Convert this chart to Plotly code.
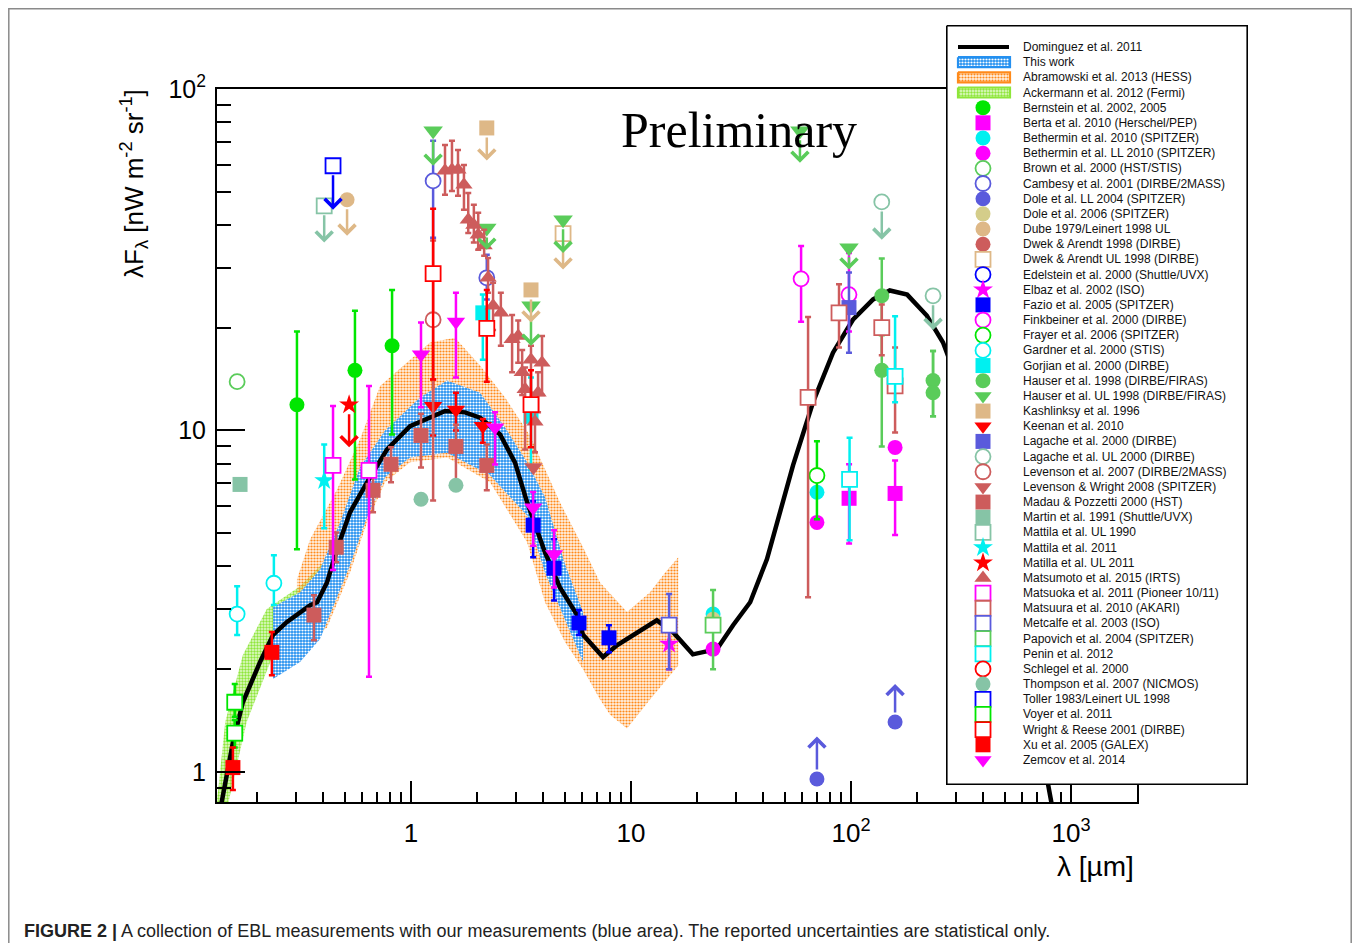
import numpy as np
import plotly.graph_objects as go

# ---------------- model curve: Dominguez et al. 2011 ----------------
dom_lam = [0.136, 0.140, 0.155, 0.172, 0.206, 0.236, 0.273, 0.348, 0.374, 0.415, 0.461, 0.528,
           0.631, 0.778, 0.99, 1.43, 1.76, 2.06, 2.54, 2.97, 3.37, 4.06, 4.75, 5.69, 6.05, 7.46,
           8.63, 13.1, 15.5, 19.1, 24.6, 29.1, 34.8, 41.5, 54.5, 67.2, 82.8, 102, 126, 150, 180,
           221, 262, 350, 500, 650, 803, 850]
dom_f = [0.78, 0.857, 1.22, 1.60, 2.10, 2.52, 2.75, 3.08, 3.14, 3.59, 4.49, 5.76,
         7.05, 8.80, 10.3, 11.4, 11.3, 10.9, 9.73, 8.05, 6.16, 4.40, 3.47, 2.88, 2.52, 2.17,
         2.35, 2.78, 2.57, 2.21, 2.29, 2.69, 3.14, 4.20, 7.90, 12.1, 16.9, 21.1, 24.2, 25.7, 25.0,
         21.7, 18.1, 11.0, 4.5, 1.8, 0.85, 0.7]

# ---------------- bands ----------------
# This work (blue)
tw_up_lam = [0.236, 0.313, 0.386, 0.476, 0.586, 0.762, 1.099, 1.457, 2.06, 2.675, 3.368, 4.064, 5.01, 6.05]
tw_up_f = [3.04, 3.36, 3.92, 5.38, 7.79, 10.0, 12.5, 14.0, 12.9, 10.2, 8.07, 6.37, 4.06, 2.94]
tw_lo_lam = [0.236, 0.313, 0.386, 0.415, 0.528, 0.631, 0.762, 0.990, 1.457, 2.286, 3.368, 4.064, 5.01, 6.05]
tw_lo_f = [1.87, 2.10, 2.45, 2.75, 4.03, 5.57, 7.30, 8.34, 8.6, 7.39, 5.64, 3.84, 2.80, 2.10]
# Abramowski et al. 2013 (HESS, orange)
hess_up_lam = [0.303, 0.348, 0.461, 0.586, 0.723, 1.22, 1.585, 2.06, 2.675, 3.47, 4.75, 6.05, 7.23, 9.59, 12.2, 14.3, 16.4]
hess_up_f = [3.67, 4.80, 6.72, 9.41, 13.5, 18.1, 18.7, 15.5, 12.5, 9.67, 6.16, 4.55, 3.59, 2.94, 3.36, 3.84, 4.25]
hess_lo_lam = [0.303, 0.348, 0.415, 0.528, 0.631, 0.762, 0.990, 1.457, 2.286, 3.368, 4.064, 5.01, 6.05, 7.23, 8.03, 9.59, 12.2, 16.4]
hess_lo_f = [2.57, 2.40, 2.65, 3.84, 5.38, 7.05, 8.07, 8.34, 7.05, 4.71, 3.14, 2.40, 2.0, 1.63, 1.47, 1.34, 1.63, 2.05]
# Ackermann et al. 2012 (Fermi, green)
fermi_up_lam = [0.128, 0.133, 0.143, 0.172, 0.221, 0.313, 0.428]
fermi_up_f = [0.75, 0.89, 1.40, 2.20, 3.0, 3.5, 4.3]
fermi_lo_lam = [0.128, 0.147, 0.179, 0.236, 0.313, 0.428]
fermi_lo_f = [0.70, 0.80, 1.40, 2.20, 2.3, 3.2]

# ---------------- measurements ----------------
bern_lam = [0.303, 0.556, 0.820]; bern_f = [11.9, 15.0, 17.7]; bern_lo = [4.49, 7.19, 9.73]; bern_hi = [19.5, 22.4, 25.8]
berta_lam = [98.0, 158.6]; berta_f = [6.33, 6.54]; berta_lo = [4.67, 4.94]; berta_hi = [7.96, 8.17]
beth_lam = [23.6, 70.0]; beth_f = [2.90, 6.59]
bethll_lam = [23.6, 70.0, 158.6]; bethll_f = [2.29, 5.38, 8.92]
brown_lam = [0.162]; brown_f = [13.9]
camb_lam = [1.26, 2.21]; camb_f = [53.8, 28.0]; camb_lo = [36.7, 24.2]; camb_hi = [70.5, 32.7]
doll_lam = [70.0, 158.6]; doll_f = [0.954, 1.40]; doll_tip = [1.27, 1.81]
dole06_lam = [23.6, 70.0, 158.6]; dole06_f = [2.80, 7.43, 14.1]
dube_lam = [0.512]; dube_f = [47.4]; dube_tip = [37.2]
dwekul_lam = [4.91]; dwekul_f = [37.7]; dwekul_tip = [29.6]
elbaz_lam = [14.9]; elbaz_f = [2.37]; elbaz_lo = [2.0]; elbaz_hi = [2.80]
fazio_lam = [3.59, 4.47, 5.80, 7.94]; fazio_f = [5.28, 3.95, 2.73, 2.47]
fazio_lo = [4.25, 3.18, 2.52, 2.24]; fazio_hi = [6.2, 4.8, 2.98, 2.69]
fink_lam = [59.3, 97.9]; fink_f = [27.8, 25.0]; fink_lo = [20.8, 19.5]; fink_hi = [34.7, 33.1]
frayer_lam = [70.0]; frayer_f = [7.38]; frayer_lo = [5.5]; frayer_hi = [9.3]
gard_lam = [0.162, 0.238]; gard_f = [2.90, 3.57]; gard_lo = [2.52, 3.08]; gard_hi = [3.50, 4.31]
gorj_lam = [2.12, 3.51]; gorj_f = [22.1, 11.0]; gorj_lo = [16.1, 7.7]; gorj_hi = [25.0, 14.3]
haus_lam = [138, 138, 236, 236]; haus_f = [24.8, 15.0, 14.0, 12.9]
haus_lo = [19.0, 8.98, 11.0, 11.0]; haus_hi = [31.9, 20.0, 17.1, 17.1]
hausul_lam = [1.26, 2.21, 3.51, 4.91, 58.6, 97.9]; hausul_f = [75.4, 39.2, 23.2, 41.4, 75.4, 34.3]
hausul_tip = [59.6, 33.8, 17.7, 33.1, 60.8, 29.6]
kash_lam = [2.21, 3.51]; kash_f = [76.9, 25.8]; kash_tip = [61.7, 20.7]
keen_lam = [1.26, 1.60, 2.12]; keen_f = [11.8, 11.5, 10.3]; keen_lo = [9.67, 10.0, 9.2]; keen_hi = [14.1, 12.9, 10.8]
lag_lam = [97.9]; lag_f = [22.9]; lag_lo = [16.9]; lag_hi = [29.0]
lagul_lam = [138, 236]; lagul_f = [46.7, 24.8]; lagul_tip = [36.2, 19.7]
lev07_lam = [1.26]; lev07_f = [21.1]; lev07_lo = [6.24]; lev07_hi = [36.0]
levw_lam = [3.60]; levw_f = [7.8]
madau_lam = [0.362, 0.457, 0.672, 0.811, 1.11, 1.60, 2.21]
madau_f = [2.88, 4.55, 6.68, 7.96, 9.67, 8.98, 7.90]
madau_lo = [2.43, 4.11, 5.76, 7.05, 7.79, 6.68, 6.68]
madau_hi = [3.29, 5.03, 7.62, 8.93, 11.2, 10.4, 9.1]
martin_lam = [0.167]; martin_f = [6.95]
matul90_lam = [0.403]; matul90_f = [45.5]; matul90_tip = [35.5]
mat11_lam = [0.403]; mat11_f = [7.14]; mat11_lo = [5.17]; mat11_hi = [9.1]
matul11_lam = [0.523]; matul11_f = [11.9]; matul11_tip = [8.93]
matsu_lam = [1.427, 1.535, 1.635, 1.74, 1.82, 1.93, 2.02, 2.15, 2.24, 2.36, 2.56, 2.88, 3.07, 3.20, 3.30, 3.51, 3.66, 3.78, 3.94]
matsu_f = [57.6, 58.0, 58.0, 52.4, 41.4, 40.0, 37.4, 34.8, 28.0, 23.2, 22.1, 18.5, 18.9, 14.8, 13.2, 16.1, 10.6, 12.9, 15.8]
matsu_lo = [49.0, 50.3, 48.7, 44.3, 37.9, 35.5, 33.8, 32.5, 25.3, 19.7, 17.7, 14.8, 15.8, 12.7, 8.80, 12.1, 8.63, 11.3, 12.7]
matsu_hi = [68.6, 70.5, 66.3, 59.9, 49.6, 45.8, 43.4, 38.7, 32.0, 27.1, 25.3, 21.8, 21.0, 17.2, 15.3, 17.7, 12.1, 14.8, 18.9]
matsuo_lam = [0.442, 0.644]; matsuo_f = [7.9, 7.64]; matsuo_lo = [3.90, 1.90]; matsuo_hi = [11.8, 13.5]
matsuu_lam = [63.8, 88.2, 138, 158.6]; matsuu_f = [12.5, 22.1, 20.0, 13.5]
matsuu_lo = [3.25, 17.5, 16.6, 9.86]; matsuu_hi = [21.5, 26.8, 23.4, 17.5]
metc_lam = [14.9]; metc_f = [2.69]; metc_lo = [2.0]; metc_hi = [3.32]
papo_lam = [23.6]; papo_f = [2.69]; papo_lo = [2.0]; papo_hi = [3.41]
penin_lam = [98.5, 158.6]; penin_f = [7.19, 14.4]; penin_lo = [4.77, 12.1]; penin_hi = [9.52, 21.6]
thom_lam = [1.11, 1.60]; thom_f = [6.29, 6.91]
toller_lam = [0.442]; toller_f = [59.6]; toller_tip = [44.3]
voyer_lam = [0.158, 0.158]; voyer_f = [1.60, 1.30]; voyer_lo = [1.45, 1.18]; voyer_hi = [1.81, 1.42]
wr_lam = [1.26, 2.21, 3.51]; wr_f = [28.8, 19.9, 11.9]; wr_lo = [14.1, 13.9, 8.93]; wr_hi = [44.6, 25.8, 15.0]
xu_lam = [0.155, 0.233]; xu_f = [1.03, 2.24]; xu_lo = [0.886, 1.92]; xu_hi = [1.18, 2.57]
zem_lam = [1.11, 1.60, 2.41, 3.59, 4.47]; zem_f = [16.7, 20.8, 10.2, 5.95, 4.34]
zem_lo = [11.7, 14.3, 7.95, 4.6, 3.47]; zem_hi = [20.7, 25.3, 11.3, 6.6, 5.10]

# ---------------- axis ticks ----------------
x_major = [1, 10, 100, 1000]
x_major_text = ["1", "10", "10<sup>2</sup>", "10<sup>3</sup>"]
x_minor = [m * d for d in (0.1, 1, 10, 100) for m in range(2, 10)]
y_major = [1, 10, 100]
y_major_text = ["1", "10", "10<sup>2</sup>"]
y_minor = [0.9] + [m * d for d in (1, 10) for m in range(2, 10)]

legend_labels = [
    "Dominguez et al. 2011", "This work", "Abramowski et al. 2013 (HESS)", "Ackermann et al. 2012 (Fermi)",
    "Bernstein et al. 2002, 2005", "Berta et al. 2010 (Herschel/PEP)", "Bethermin et al. 2010 (SPITZER)",
    "Bethermin et al. LL 2010 (SPITZER)", "Brown et al. 2000 (HST/STIS)", "Cambesy et al. 2001 (DIRBE/2MASS)",
    "Dole et al. LL 2004 (SPITZER)", "Dole et al. 2006 (SPITZER)", "Dube 1979/Leinert 1998 UL",
    "Dwek &amp; Arendt 1998 (DIRBE)", "Dwek &amp; Arendt UL 1998 (DIRBE)", "Edelstein et al. 2000 (Shuttle/UVX)",
    "Elbaz et al. 2002 (ISO)", "Fazio et al. 2005 (SPITZER)", "Finkbeiner et al. 2000 (DIRBE)",
    "Frayer et al. 2006 (SPITZER)", "Gardner et al. 2000 (STIS)", "Gorjian et al. 2000 (DIRBE)",
    "Hauser et al. 1998 (DIRBE/FIRAS)", "Hauser et al. UL 1998 (DIRBE/FIRAS)", "Kashlinksy et al. 1996",
    "Keenan et al. 2010", "Lagache et al. 2000 (DIRBE)", "Lagache et al. UL 2000 (DIRBE)",
    "Levenson et al. 2007 (DIRBE/2MASS)", "Levenson &amp; Wright 2008 (SPITZER)", "Madau &amp; Pozzetti 2000 (HST)",
    "Martin et al. 1991 (Shuttle/UVX)", "Mattila et al. UL 1990", "Mattila et al. 2011", "Matilla et al. UL 2011",
    "Matsumoto et al. 2015 (IRTS)", "Matsuoka et al. 2011 (Pioneer 10/11)", "Matsuura et al. 2010 (AKARI)",
    "Metcalfe et al. 2003 (ISO)", "Papovich et al. 2004 (SPITZER)", "Penin et al. 2012", "Schlegel et al. 2000",
    "Thompson et al. 2007 (NICMOS)", "Toller 1983/Leinert UL 1998", "Voyer et al. 2011",
    "Wright &amp; Reese 2001 (DIRBE)", "Xu et al. 2005 (GALEX)", "Zemcov et al. 2014",
]

# ---------------- styles ----------------
GREEN = "#00e600"; MGREEN = "#5acc5a"; BLUE = "#0000ff"; SLATE = "#5a5adc"
MAG = "#ff00ff"; CYAN = "#00f0f0"; TAN = "#deb887"; KHAKI = "#d4cd8a"
IRED = "#cd5c5c"; RED = "#ff0000"; AQUA = "#86c4a6"
BAND_BLUE = dict(fg="white", bg="#2490f0", edge="#2490f0", sol=0.42)
BAND_ORANGE = dict(fg="#ff8a1a", bg="rgba(255,150,60,0.14)", edge="#ff8a1a", sol=0.42)
BAND_GREEN = dict(fg="#8ee63a", bg="rgba(150,235,70,0.25)", edge="#8ee63a", sol=0.5)

fig = go.Figure()


def add_band(lu, fu, ll, fl, st):
    x = list(lu) + list(ll)[::-1]
    y = list(fu) + list(fl)[::-1]
    fig.add_trace(go.Scatter(
        x=x, y=y, mode="lines", fill="toself", line=dict(width=0, color=st["edge"]),
        fillpattern=dict(shape=".", fgcolor=st["fg"], bgcolor=st["bg"], size=3, solidity=st["sol"]),
        hoverinfo="skip", showlegend=False))


add_band(fermi_up_lam, fermi_up_f, fermi_lo_lam, fermi_lo_f, BAND_GREEN)
add_band(hess_up_lam, hess_up_f, hess_lo_lam, hess_lo_f, BAND_ORANGE)
add_band(tw_up_lam, tw_up_f, tw_lo_lam, tw_lo_f, BAND_BLUE)

fig.add_trace(go.Scatter(x=dom_lam, y=dom_f, mode="lines", line=dict(color="black", width=4.5),
                         showlegend=False, hoverinfo="skip"))

arrow_list = []


def add_series(lam, f, symbol, color, hollow=False, size=15, lo=None, hi=None, tip=None):
    err = None
    if lo is not None:
        err = dict(type="data", symmetric=False,
                   array=[h - v for h, v in zip(hi, f)],
                   arrayminus=[v - l for v, l in zip(f, lo)],
                   color=color, thickness=2.5, width=3)
    fig.add_trace(go.Scatter(
        x=lam, y=f, mode="markers", error_y=err, showlegend=False,
        marker=dict(symbol=symbol, size=size, color="white" if hollow else color,
                    line=dict(color=color, width=1.8 if hollow else 0))))
    if tip is not None:
        for l, v, t in zip(lam, f, tip):
            arrow_list.append((l, v, t, color))


add_series(bern_lam, bern_f, "circle", GREEN, lo=bern_lo, hi=bern_hi)
add_series(berta_lam, berta_f, "square", MAG, lo=berta_lo, hi=berta_hi)
add_series(beth_lam, beth_f, "circle", CYAN)
add_series(bethll_lam, bethll_f, "circle", MAG)
add_series(brown_lam, brown_f, "circle", MGREEN, hollow=True)
add_series(camb_lam, camb_f, "circle", SLATE, hollow=True, lo=camb_lo, hi=camb_hi)
add_series(doll_lam, doll_f, "circle", SLATE, tip=doll_tip)
add_series(dole06_lam, dole06_f, "circle", KHAKI)
add_series(dube_lam, dube_f, "circle", TAN, tip=dube_tip)
add_series(dwekul_lam, dwekul_f, "square", TAN, hollow=True, tip=dwekul_tip)
add_series(elbaz_lam, elbaz_f, "star", MAG, lo=elbaz_lo, hi=elbaz_hi)
add_series(fazio_lam, fazio_f, "square", BLUE, lo=fazio_lo, hi=fazio_hi)
add_series(fink_lam, fink_f, "circle", MAG, hollow=True, lo=fink_lo, hi=fink_hi)
add_series(frayer_lam, frayer_f, "circle", GREEN, hollow=True, lo=frayer_lo, hi=frayer_hi)
add_series(gard_lam, gard_f, "circle", CYAN, hollow=True, lo=gard_lo, hi=gard_hi)
add_series(gorj_lam, gorj_f, "square", CYAN, lo=gorj_lo, hi=gorj_hi)
add_series(haus_lam, haus_f, "circle", MGREEN, lo=haus_lo, hi=haus_hi)
add_series(hausul_lam, hausul_f, "triangle-down", MGREEN, size=17, tip=hausul_tip)
add_series(kash_lam, kash_f, "square", TAN, tip=kash_tip)
add_series(keen_lam, keen_f, "triangle-down", RED, size=16, lo=keen_lo, hi=keen_hi)
add_series(lag_lam, lag_f, "square", SLATE, lo=lag_lo, hi=lag_hi)
add_series(lagul_lam, lagul_f, "circle", AQUA, hollow=True, tip=lagul_tip)
add_series(lev07_lam, lev07_f, "circle", IRED, hollow=True, lo=lev07_lo, hi=lev07_hi)
add_series(levw_lam, levw_f, "triangle-down", IRED, size=16)
add_series(madau_lam, madau_f, "square", IRED, lo=madau_lo, hi=madau_hi)
add_series(martin_lam, martin_f, "square", AQUA)
add_series(matul90_lam, matul90_f, "square", AQUA, hollow=True, tip=matul90_tip)
add_series(mat11_lam, mat11_f, "star", CYAN, lo=mat11_lo, hi=mat11_hi)
add_series(matul11_lam, matul11_f, "star", RED, tip=matul11_tip)
add_series(matsu_lam, matsu_f, "triangle-up", IRED, size=15, lo=matsu_lo, hi=matsu_hi)
add_series(matsuo_lam, matsuo_f, "square", MAG, hollow=True, lo=matsuo_lo, hi=matsuo_hi)
add_series(matsuu_lam, matsuu_f, "square", IRED, hollow=True, lo=matsuu_lo, hi=matsuu_hi)
add_series(metc_lam, metc_f, "square", SLATE, hollow=True, lo=metc_lo, hi=metc_hi)
add_series(papo_lam, papo_f, "square", MGREEN, hollow=True, lo=papo_lo, hi=papo_hi)
add_series(penin_lam, penin_f, "square", CYAN, hollow=True, lo=penin_lo, hi=penin_hi)
add_series(thom_lam, thom_f, "circle", AQUA)
add_series(toller_lam, toller_f, "square", BLUE, hollow=True, tip=toller_tip)
add_series(voyer_lam, voyer_f, "square", GREEN, hollow=True, lo=voyer_lo, hi=voyer_hi)
add_series(wr_lam, wr_f, "square", RED, hollow=True, lo=wr_lo, hi=wr_hi)
add_series(xu_lam, xu_f, "square", RED, lo=xu_lo, hi=xu_hi)
add_series(zem_lam, zem_f, "triangle-down", MAG, size=16, lo=zem_lo, hi=zem_hi)

for l, v, t, c in arrow_list:
    fig.add_annotation(x=np.log10(l), y=np.log10(t), ax=np.log10(l), ay=np.log10(v),
                       xref="x", yref="y", axref="x", ayref="y", text="", showarrow=True,
                       arrowhead=4, arrowsize=1.3, arrowwidth=2.5, arrowcolor=c, startstandoff=8)

# ---------------- legend (drawn in its own small axes) ----------------
leg_style = [
    ("line",), ("band", BAND_BLUE), ("band", BAND_ORANGE), ("band", BAND_GREEN),
    ("m", "circle", GREEN, False), ("m", "square", MAG, False), ("m", "circle", CYAN, False),
    ("m", "circle", MAG, False), ("m", "circle", MGREEN, True), ("m", "circle", SLATE, True),
    ("m", "circle", SLATE, False), ("m", "circle", KHAKI, False), ("m", "circle", TAN, False),
    ("m", "circle", IRED, False), ("m", "square", TAN, True), ("m", "circle", BLUE, True),
    ("m", "star", MAG, False), ("m", "square", BLUE, False), ("m", "circle", MAG, True),
    ("m", "circle", GREEN, True), ("m", "circle", CYAN, True), ("m", "square", CYAN, False),
    ("m", "circle", MGREEN, False), ("m", "triangle-down", MGREEN, False), ("m", "square", TAN, False),
    ("m", "triangle-down", RED, False), ("m", "square", SLATE, False), ("m", "circle", AQUA, True),
    ("m", "circle", IRED, True), ("m", "triangle-down", IRED, False), ("m", "square", IRED, False),
    ("m", "square", AQUA, False), ("m", "square", AQUA, True), ("m", "star", CYAN, False),
    ("m", "star", RED, False), ("m", "triangle-up", IRED, False), ("m", "square", MAG, True),
    ("m", "square", IRED, True), ("m", "square", SLATE, True), ("m", "square", MGREEN, True),
    ("m", "square", CYAN, True), ("m", "circle", RED, True), ("m", "circle", AQUA, False),
    ("m", "square", BLUE, True), ("m", "square", GREEN, True), ("m", "square", RED, True),
    ("m", "square", RED, False), ("m", "triangle-down", MAG, False),
]

LX = dict(xaxis="x2", yaxis="y2", showlegend=False, hoverinfo="skip")
fig.add_trace(go.Scatter(x=[0.8, 301.2, 301.2, 0.8, 0.8], y=[-1.4, -1.4, 48.6, 48.6, -1.4],
                         mode="lines", fill="toself", fillcolor="white",
                         line=dict(color="black", width=1.6), **LX))
for i, (lab, st) in enumerate(zip(legend_labels, leg_style)):
    if st[0] == "line":
        fig.add_trace(go.Scatter(x=[12, 63], y=[i, i], mode="lines",
                                 line=dict(color="black", width=4), **LX))
    elif st[0] == "band":
        b = st[1]
        fig.add_trace(go.Scatter(
            x=[12, 64, 64, 12, 12], y=[i - 0.33, i - 0.33, i + 0.33, i + 0.33, i - 0.33],
            mode="lines", fill="toself", line=dict(color=b["edge"], width=2.2),
            fillpattern=dict(shape=".", fgcolor=b["fg"], bgcolor=b["bg"],
                             size=3, solidity=b["sol"]), **LX))
    else:
        _, sym, col, hol = st
        fig.add_trace(go.Scatter(
            x=[37], y=[i], mode="markers",
            marker=dict(symbol=sym, size=15, color="white" if hol else col,
                        line=dict(color=col, width=1.8 if hol else 0)), **LX))
    fig.add_annotation(x=75, y=i, xref="x2", yref="y2", text=lab, showarrow=False,
                       xanchor="left", yanchor="middle",
                       font=dict(family="Liberation Sans", size=12, color="#111"))

# ---------------- layout ----------------
# the page body adds an 8 px margin, so the figure is 16 px smaller than the window
W, H = 1344, 935
L, R, T, B = 209, 104, 17, 141
PW, PH = W - L - R, H - T - B


def px(xr):
    return (xr - 8 - L) / PW


def py(yr):
    return (T + PH - (yr - 8)) / PH


axis_common = dict(type="log", showgrid=False, zeroline=False, showline=True, linecolor="black",
                   linewidth=2, mirror=True, ticks="inside", tickcolor="black", tickwidth=1.5,
                   tickmode="array", automargin=False)
fig.update_layout(
    template="none",
    width=W, height=H, margin=dict(l=L, r=R, t=T, b=B, autoexpand=False),
    paper_bgcolor="white", plot_bgcolor="white", showlegend=False,
    font=dict(family="Liberation Sans", color="black"),
    xaxis=dict(axis_common, domain=[0, 920 / PW], range=[-0.882, 3.3], ticklen=21,
               tickvals=x_major, ticktext=x_major_text, ticklabelstandoff=7,
               tickfont=dict(family="Liberation Sans", size=26, color="black"),
               minor=dict(tickmode="array", tickvals=x_minor, ticks="inside", ticklen=10,
                          tickwidth=1.5, tickcolor="black", showgrid=False)),
    yaxis=dict(axis_common, domain=[0, 713 / PH], range=[-0.088, 2], ticklen=28,
               tickvals=y_major, ticktext=y_major_text, ticklabelstandoff=4,
               tickfont=dict(family="Liberation Sans", size=25, color="black"),
               minor=dict(tickmode="array", tickvals=y_minor, ticks="inside", ticklen=14,
                          tickwidth=1.5, tickcolor="black", showgrid=False)),
    xaxis2=dict(domain=[px(946), 1], range=[0, 302], visible=False, anchor="y2", automargin=False),
    yaxis2=dict(domain=[py(785), 1], range=[48.65, -1.45], visible=False, anchor="x2", automargin=False),
)

fig.add_annotation(x=px(739), y=py(130), xref="paper", yref="paper", text="Preliminary",
                   showarrow=False, xanchor="center", yanchor="middle",
                   font=dict(family="Liberation Serif", size=50, color="black"))
fig.add_annotation(x=px(134), y=py(184), xref="paper", yref="paper",
                   text="λF<sub>λ</sub> [nW m<sup>-2</sup> sr<sup>-1</sup>]", textangle=-90,
                   showarrow=False, xanchor="center", yanchor="middle",
                   font=dict(family="Liberation Sans", size=26, color="black"))
fig.add_annotation(x=px(1136), y=py(866), xref="paper", yref="paper", text="λ [µm]",
                   showarrow=False, xanchor="right", yanchor="middle",
                   font=dict(family="Liberation Sans", size=28, color="black"))
fig.add_annotation(x=px(22), y=py(931), xref="paper", yref="paper",
                   text="<b>FIGURE 2 |</b> A collection of EBL measurements with our measurements "
                        "(blue area). The reported uncertainties are statistical only.",
                   showarrow=False, xanchor="left", yanchor="middle",
                   font=dict(family="Liberation Sans", size=18, color="#222"))
fig.add_shape(type="rect", xref="paper", yref="paper", x0=px(8.8), x1=px(1351.2), y0=py(975), y1=py(8.8),
              line=dict(color="#8a8a8a", width=1.5), fillcolor="rgba(0,0,0,0)", layer="below")

fig.write_html("out.html")
